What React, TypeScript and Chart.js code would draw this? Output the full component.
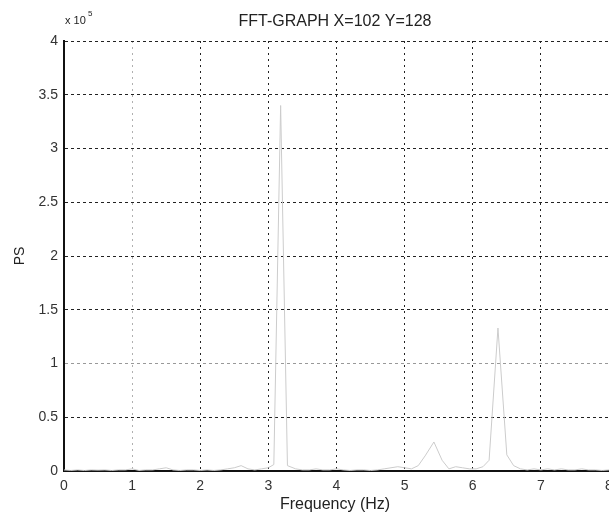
import React, { useEffect, useRef } from "react";
import { Chart, registerables } from "chart.js";

Chart.register(...registerables);

const titleText = "FFT-GRAPH X=102 Y=128";
const xTitle = "Frequency (Hz)";
const yTitle = "PS";
const xTickValues = [0, 1, 2, 3, 4, 5, 6, 7, 8];
const yTickLabels = ["0", "0.5", "1", "1.5", "2", "2.5", "3", "3.5", "4"];

// Frequency (Hz)
const freq = [
  0, 0.1, 0.2, 0.3, 0.4, 0.5, 0.6, 0.7, 0.8, 0.9,
  1.0, 1.1, 1.2, 1.3, 1.4, 1.5, 1.6, 1.7, 1.8, 1.9,
  2.0, 2.1, 2.2, 2.3, 2.4, 2.5, 2.6, 2.7, 2.8, 2.9,
  3.0, 3.08, 3.18, 3.28, 3.4, 3.5, 3.6, 3.7, 3.8, 3.9,
  4.0, 4.1, 4.2, 4.3, 4.4, 4.5, 4.6, 4.7, 4.8, 4.9,
  5.0, 5.1, 5.2, 5.3, 5.43, 5.55, 5.65, 5.75, 5.85, 5.95,
  6.05, 6.15, 6.24, 6.37, 6.5, 6.6, 6.7, 6.8, 6.9,
  7.0, 7.1, 7.2, 7.3, 7.4, 7.5, 7.6, 7.7, 7.8, 7.9, 8.0,
];
// Power spectrum (x 10^5)
const ps = [
  0.01, 0.005, 0.01, 0.005, 0.01, 0.008, 0.01, 0.005, 0.01, 0.01,
  0.02, 0.005, 0.01, 0.01, 0.02, 0.03, 0.01, 0.005, 0.01, 0.01,
  0.005, 0.01, 0.005, 0.01, 0.02, 0.03, 0.05, 0.02, 0.01, 0.02,
  0.03, 0.06, 3.4, 0.05, 0.02, 0.01, 0.01, 0.02, 0.01, 0.01,
  0.02, 0.01, 0.005, 0.01, 0.01, 0.005, 0.01, 0.02, 0.03, 0.04,
  0.03, 0.02, 0.05, 0.14, 0.27, 0.1, 0.02, 0.04, 0.03, 0.02,
  0.02, 0.04, 0.1, 1.33, 0.15, 0.05, 0.02, 0.01, 0.02,
  0.01, 0.02, 0.01, 0.02, 0.01, 0.01, 0.02, 0.01, 0.01, 0.005, 0.01,
];

const FONT = "'Liberation Sans Narrow', 'Liberation Sans', Arial, sans-serif";

const textPlugin = {
  id: "textPlugin",
  afterDraw(chart: any) {
    const ctx = chart.ctx;
    ctx.save();
    ctx.fillStyle = "#222";
    ctx.textBaseline = "middle";
    ctx.textAlign = "center";
    ctx.font = `16px ${FONT}`;
    ctx.fillText(titleText, 335, 22);
    ctx.fillText(xTitle, 335, 505);
    ctx.font = `11px ${FONT}`;
    ctx.textAlign = "left";
    ctx.fillText("x 10", 65, 21);
    ctx.font = `8px ${FONT}`;
    ctx.fillText("5", 88, 14);
    ctx.font = `14px ${FONT}`;
    ctx.translate(20, 256);
    ctx.rotate(-Math.PI / 2);
    ctx.textAlign = "center";
    ctx.fillText(yTitle, 0, 0);
    ctx.restore();
  },
};

export default function App() {
  const ref = useRef<HTMLCanvasElement>(null);
  useEffect(() => {
    if (!ref.current) return;
    const chart = new Chart(ref.current, {
      type: "line",
      data: {
        datasets: [
          {
            data: freq.map((f, i) => ({ x: f, y: ps[i] * 1e5 })),
            borderColor: "#cccccc",
            borderWidth: 1,
            pointRadius: 0,
            tension: 0,
            fill: false,
          },
        ],
      },
      options: {
        animation: false,
        responsive: false,
        devicePixelRatio: 1,
        layout: { padding: { top: 41, right: 0, bottom: 0, left: 0 }, autoPadding: false } as any,
        plugins: { legend: { display: false }, title: { display: false }, tooltip: { enabled: false } },
        scales: {
          x: {
            type: "linear",
            min: 0,
            max: 8,
            afterFit: (s: any) => {
              s.height = 48;
              s.paddingLeft = 0;
              s.paddingRight = 0;
            },
            afterBuildTicks: (s: any) => { s.ticks = xTickValues.map((v) => ({ value: v })); },
            ticks: {
              color: "#333",
              font: { family: FONT, size: 14 },
              padding: 7,
              maxRotation: 0,
              callback: (v: any) => String(v),
            },
            grid: {
              drawTicks: false,
              color: (c: any) => (c.tick && c.tick.value === 1 ? "#b0b0b0" : "#222"),
              lineWidth: (c: any) => (c.tick && (c.tick.value === 0 || c.tick.value === 8) ? 0 : 1),
            },
            border: { display: true, color: "#111", width: 2, dash: [2, 4] },
          },
          y: {
            type: "linear",
            min: 0,
            max: 4e5,
            afterFit: (s: any) => {
              s.width = 64;
              s.paddingTop = 0;
              s.paddingBottom = 0;
            },
            afterBuildTicks: (s: any) => { s.ticks = yTickLabels.map((_, i) => ({ value: i * 0.5e5 })); },
            ticks: {
              color: "#333",
              font: { family: FONT, size: 14 },
              padding: 6,
              callback: (_v: any, i: number) => yTickLabels[i],
            },
            grid: {
              drawTicks: false,
              color: (c: any) => (c.tick && c.tick.value === 1e5 ? "#999" : "#222"),
              lineWidth: (c: any) => (c.tick && c.tick.value === 0 ? 0 : 1),
            },
            border: { display: true, color: "#111", width: 2, dash: [3, 3] },
          },
        },
      },
      plugins: [textPlugin],
    } as any);
    return () => chart.destroy();
  }, []);
  return (
    <div style={{ position: "fixed", left: 0, top: 0, width: 609, height: 519, background: "#fff" }}>
      <canvas ref={ref} width={609} height={519} style={{ width: 609, height: 519 }} />
    </div>
  );
}
